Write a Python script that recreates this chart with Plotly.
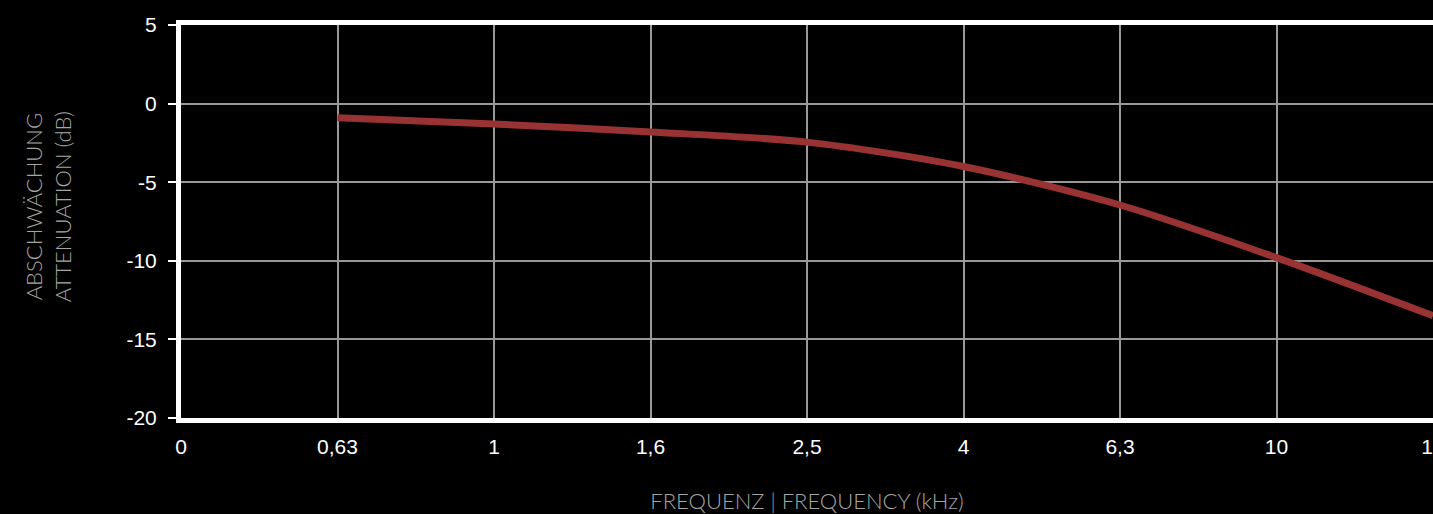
import plotly.graph_objects as go

# Category labels of the frequency axis (kHz)
x_categories = ["0", "0,63", "1", "1,6", "2,5", "4", "6,3", "10", "16"]
# Measured frequencies (category labels) and attenuation values (dB)
freq_labels = ["0,63", "1", "1,6", "2,5", "4", "6,3", "10", "16"]
attenuation_db = [-0.9, -1.3, -1.8, -2.45, -4.0, -6.45, -9.8, -13.5]
y_ticks = [5, 0, -5, -10, -15, -20]
y_tick_text = ["5", "0", "-5", "-10", "-15", "-20"]

fig = go.Figure()
fig.add_trace(go.Scatter(
    x=freq_labels,
    y=attenuation_db,
    mode="lines",
    line=dict(color="#993333", width=7, shape="spline", smoothing=0.8),
    showlegend=False,
    hoverinfo="skip",
))

fig.update_layout(
    width=1433,
    height=514,
    margin=dict(l=181, r=0, t=25, b=96, autoexpand=False),
    paper_bgcolor="#000000",
    plot_bgcolor="#000000",
    font=dict(family="Liberation Sans, Arial, sans-serif", color="#ffffff", size=21),
    xaxis=dict(
        type="category",
        categoryorder="array",
        categoryarray=x_categories,
        tickvals=x_categories,
        ticktext=x_categories,
        range=[0, 8],
        automargin=False,
        showgrid=True,
        gridcolor="#999999",
        gridwidth=2,
        showline=True,
        linecolor="#ffffff",
        linewidth=5,
        mirror=True,
        ticks="",
        ticklabelstandoff=6,
        tickfont=dict(size=21, color="#ffffff"),
        title=dict(
            text="FREQUENZ | FREQUENCY (kHz)",
            font=dict(family="Lato, sans-serif", size=22, color="#a6a6a6", weight=300),
            standoff=41,
        ),
    ),
    yaxis=dict(
        range=[-20, 5],
        tickvals=y_ticks,
        ticktext=y_tick_text,
        automargin=False,
        showgrid=True,
        gridcolor="#999999",
        gridwidth=2,
        zeroline=False,
        showline=True,
        linecolor="#ffffff",
        linewidth=5,
        ticks="outside",
        ticklen=8,
        tickwidth=2,
        tickcolor="#ffffff",
        ticklabelstandoff=7,
        tickfont=dict(size=21, color="#ffffff"),
    ),
    annotations=[
        dict(
            text="ABSCHWÄCHUNG<br>ATTENUATION (dB)",
            xref="paper", yref="paper",
            x=-0.106, y=0.537,
            xanchor="center", yanchor="middle",
            textangle=-90,
            showarrow=False,
            font=dict(family="Lato, sans-serif", size=22, color="#a6a6a6", weight=300),
        )
    ],
)

fig.write_html(
    "out.html",
    config={"displayModeBar": False},
    post_script=(
        "document.body.style.margin='0';"
        "document.body.style.overflow='hidden';"
        "document.body.style.background='#000';"
    ),
)
